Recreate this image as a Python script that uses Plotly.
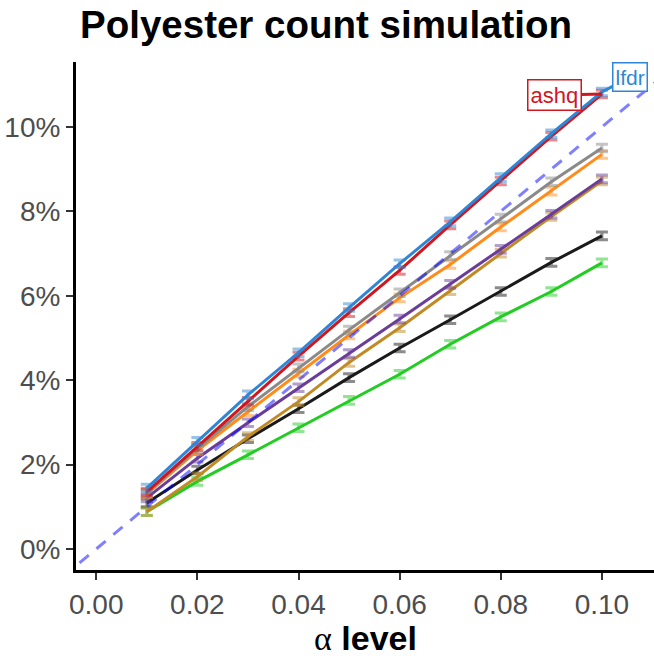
import plotly.graph_objects as go

alpha = [0.01, 0.02, 0.03, 0.04, 0.05, 0.06, 0.07, 0.08, 0.09, 0.10]

series_names = ["green", "black", "goldenrod", "purple", "orange", "gray", "ashq", "lfdr"]
green = [0.88, 1.60, 2.23, 2.87, 3.52, 4.14, 4.85, 5.50, 6.10, 6.78]
black = [1.09, 1.87, 2.61, 3.32, 4.06, 4.76, 5.43, 6.10, 6.79, 7.42]
goldenrod = [0.88, 1.71, 2.66, 3.49, 4.42, 5.24, 6.12, 7.01, 7.88, 8.72]
purple = [1.21, 2.15, 2.99, 3.82, 4.63, 5.45, 6.27, 7.10, 7.93, 8.77]
orange = [1.30, 2.33, 3.25, 4.17, 5.07, 5.95, 6.74, 7.63, 8.48, 9.35]
gray = [1.32, 2.38, 3.37, 4.29, 5.19, 6.07, 6.95, 7.84, 8.70, 9.50]
ashq = [1.35, 2.43, 3.50, 4.57, 5.60, 6.60, 7.68, 8.72, 9.78, 10.78]
lfdr = [1.44, 2.55, 3.65, 4.65, 5.72, 6.76, 7.75, 8.80, 9.84, 10.83]
err = [0.09, 0.09, 0.09, 0.09, 0.09, 0.09, 0.09, 0.09, 0.09, 0.09]

x_ticks = [0, 0.02, 0.04, 0.06, 0.08, 0.10]
x_labels = ["0.00", "0.02", "0.04", "0.06", "0.08", "0.10"]
y_ticks = [0, 2, 4, 6, 8, 10]
y_labels = ["0%", "2%", "4%", "6%", "8%", "10%"]

values = [green, black, goldenrod, purple, orange, gray, ashq, lfdr]
colors = ["#22CC22", "#1A1A1A", "#C08A25", "#6A3D9A", "#FF8C1A", "#8A8A8A", "#D0161E", "#2F86D6"]
err_colors = ["rgba(34,204,34,0.5)", "rgba(26,26,26,0.5)", "rgba(192,138,37,0.5)",
              "rgba(106,61,154,0.5)", "rgba(255,140,26,0.5)", "rgba(138,138,138,0.5)",
              "rgba(208,22,30,0.5)", "rgba(47,134,214,0.5)"]

fig = go.Figure()
for name, v, c, ec in zip(series_names, values, colors, err_colors):
    fig.add_trace(go.Scatter(
        x=alpha, y=v, mode="lines", name=name,
        line=dict(color=c, width=3),
        error_y=dict(type="data", array=err, color=ec, thickness=3, width=6),
        showlegend=False,
    ))

# identity reference line
ref_x = [-0.02, 0.13]
ref_y = [-2, 13]
fig.add_trace(go.Scatter(x=ref_x, y=ref_y, mode="lines",
                         line=dict(color="rgba(0,0,255,0.5)", width=3, dash="12px,10px"),
                         showlegend=False))

fig.add_annotation(x=alpha[-1], y=ashq[-1], ax=0.0907, ay=10.76, axref="x", ayref="y",
                   xref="x", yref="y", text="ashq", showarrow=True, arrowhead=0,
                   arrowwidth=3, arrowcolor="#D0161E", standoff=0,
                   font=dict(family="Liberation Sans", size=22, color="#D0161E"),
                   bordercolor="#D0161E", borderwidth=1.5, borderpad=2, bgcolor="white")
fig.add_annotation(x=alpha[-1], y=lfdr[-1], ax=0.1055, ay=11.18, axref="x", ayref="y",
                   xref="x", yref="y", text="lfdr", showarrow=True, arrowhead=0,
                   arrowwidth=3, arrowcolor="#2F86D6", standoff=0,
                   font=dict(family="Liberation Sans", size=21, color="#2F86D6"),
                   bordercolor="#2F86D6", borderwidth=1.5, borderpad=2, bgcolor="white")

# title
fig.add_annotation(text="<b>Polyester count simulation</b>", xref="paper", yref="paper",
                   x=0.003, y=1.0748, xanchor="left", yanchor="middle", showarrow=False,
                   font=dict(family="Liberation Sans", size=38.5, color="black"))
# x-axis title
fig.add_annotation(text="<span style='font-family:Liberation Serif'>α</span> <b>level</b>",
                   xref="paper", yref="paper", x=0.5, y=-0.134, xanchor="center",
                   yanchor="middle", showarrow=False,
                   font=dict(family="Liberation Sans", size=34, color="black"))

fig.update_layout(
    width=654, height=658,
    margin=dict(l=76, r=0, t=62, b=88, autoexpand=False),
    paper_bgcolor="white", plot_bgcolor="white",
    font=dict(family="Liberation Sans"),
)
fig.update_xaxes(range=[-0.0040, 0.1103], tickvals=x_ticks, ticktext=x_labels,
                 showgrid=False, zeroline=False, automargin=False,
                 showline=True, linecolor="black", linewidth=3,
                 ticks="outside", ticklen=7, tickwidth=2, tickcolor="#333333",
                 tickfont=dict(size=28, color="#4D4D4D"))
fig.update_yaxes(range=[-0.5, 11.54], tickvals=y_ticks, ticktext=y_labels,
                 showgrid=False, zeroline=False, automargin=False,
                 showline=True, linecolor="black", linewidth=3,
                 ticks="outside", ticklen=7, tickwidth=2, tickcolor="#333333",
                 tickfont=dict(size=28, color="#4D4D4D"))

fig.write_html("out.html", config={"displayModeBar": False},
               post_script="document.body.style.margin='0';")
